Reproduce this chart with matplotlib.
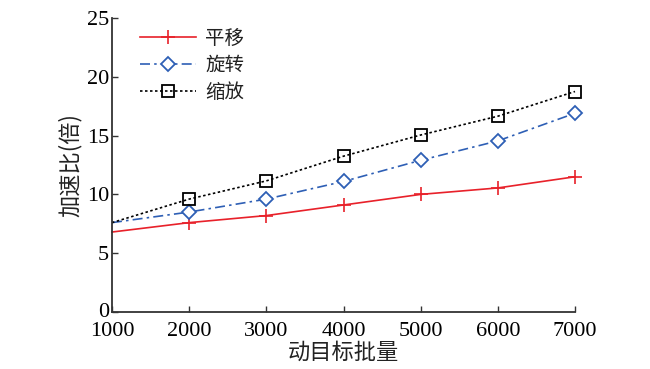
import matplotlib
matplotlib.use("Agg")
import matplotlib.pyplot as plt
import matplotlib.transforms as mtrans

batch = [1000, 2000, 3000, 4000, 5000, 6000, 7000]
translate = [6.8, 7.6, 8.2, 9.1, 10.0, 10.55, 11.5]
rotate = [7.6, 8.5, 9.6, 11.1, 12.9, 14.55, 16.9]
scale = [7.6, 9.6, 11.15, 13.25, 15.05, 16.65, 18.75]
names = ["平移", "旋转", "缩放"]
xticks = [1000, 2000, 3000, 4000, 5000, 6000, 7000]
yticks = [0, 5, 10, 15, 20, 25]

cjk = ["Noto Sans CJK SC", "DejaVu Sans"]
serif = ["Liberation Serif", "DejaVu Serif"]

fig = plt.figure(figsize=(6.5, 3.69), dpi=100)
ax = fig.add_axes([112/650, 1-312/369, (575-112)/650, (312-18)/369])

mk = slice(1, None)
ax.plot(batch, translate, color="#e8212a", lw=1.2, ls="-", marker="+", ms=10, mew=1.2,
        markevery=mk, clip_on=False, label=names[0])
ax.plot(batch, rotate, color="#2e5fb5", lw=1.2, ls=(0, (6, 2.5, 1.5, 2.5)), marker="D", ms=7,
        mfc="white", mew=1.3, markevery=mk, clip_on=False, label=names[1])
ax.plot(batch, scale, color="black", lw=1.2, ls=(0, (1.5, 1.5)), marker="s", ms=9,
        mfc="none", mew=1.3, markevery=mk, clip_on=False, label=names[2])

ax.set_xlim(1000, 7000)
ax.set_ylim(0, 25)
ax.set_xticks(xticks)
ax.set_yticks(yticks)
ax.set_xticklabels([str(v) for v in xticks], family=serif, fontsize=16)
ax.set_yticklabels([str(v) for v in yticks], family=serif, fontsize=16)
ax.tick_params(direction="in", length=4, width=1, color="#333333", pad=2)
ax.tick_params(axis="x", pad=7)
zero = ax.get_yticklabels()[0]
zero.set_va("baseline")
zero.set_transform(zero.get_transform() + mtrans.ScaledTranslation(0, -5/100, fig.dpi_scale_trans))
for s in ["top", "right"]:
    ax.spines[s].set_visible(False)
for s in ["left", "bottom"]:
    ax.spines[s].set_color("#333333")
    ax.spines[s].set_linewidth(1.3)

ax.set_xlabel("动目标批量", family=cjk, fontsize=16, labelpad=0, color="#222222")
ax.set_ylabel("加速比(倍)", family=cjk, fontsize=16, labelpad=4, color="#222222")

leg = ax.legend(loc="upper left", bbox_to_anchor=((140-112)/463, (312-28)/294), frameon=False,
                prop={"family": cjk, "size": 14}, handlelength=2.9, handletextpad=0.45,
                labelspacing=0.3, borderaxespad=0, borderpad=0)
for t in leg.get_texts():
    t.set_color("#222222")

fig.savefig("out.png", dpi=100)
